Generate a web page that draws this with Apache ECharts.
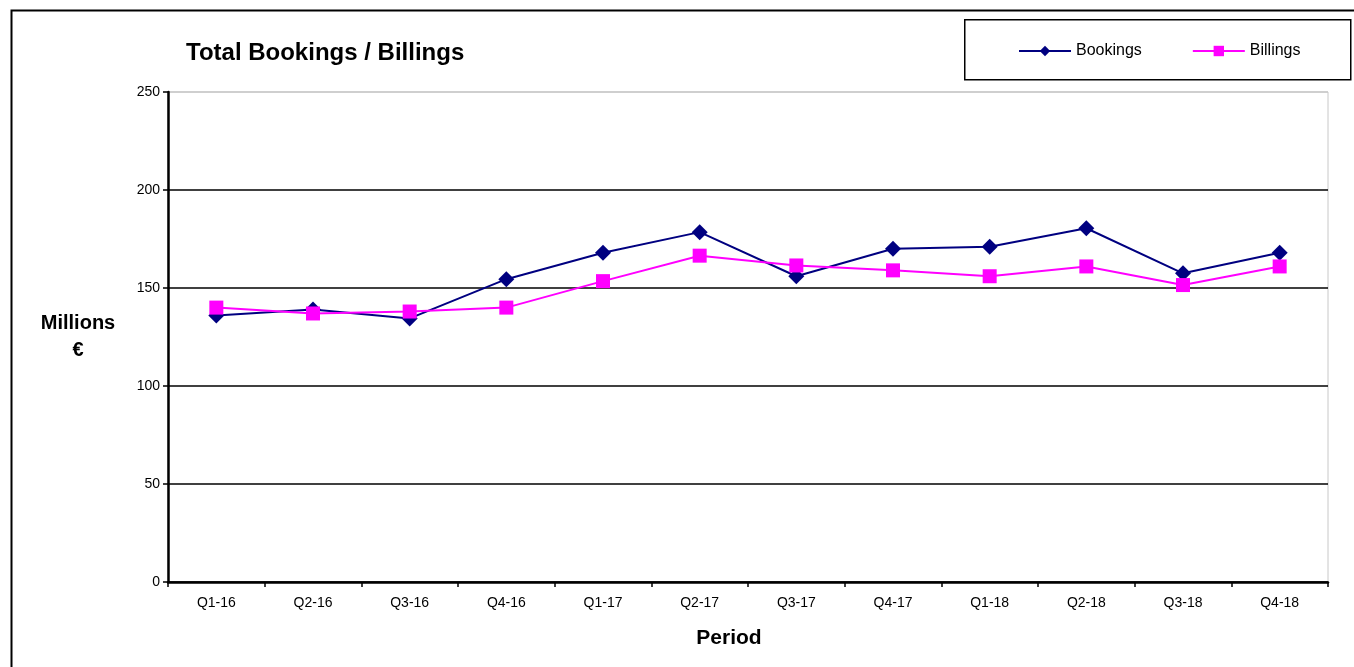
<!DOCTYPE html>
<html>
<head>
<meta charset="utf-8">
<script src="https://cdn.jsdelivr.net/npm/echarts@6/dist/echarts.min.js"></script>
<style>
html,body{margin:0;padding:0;background:#fff;}
#chart{width:1354px;height:667px;}
</style>
</head>
<body>
<div id="chart"></div>
<script>
const categories = ['Q1-16','Q2-16','Q3-16','Q4-16','Q1-17','Q2-17','Q3-17','Q4-17','Q1-18','Q2-18','Q3-18','Q4-18'];
const bookings = [136, 139, 134.5, 154.5, 168, 178.5, 156, 170, 171, 180.5, 157.5, 168];
const billings = [140, 137, 138, 140, 153.5, 166.5, 161.5, 159, 156, 161, 151.5, 161];
const yTicks = { min: 0, max: 250, interval: 50 };

const chart = echarts.init(document.getElementById('chart'), null, {renderer: 'canvas'});
const font = '"Liberation Sans", Arial, sans-serif';
chart.setOption({
  backgroundColor: '#fff',
  animation: false,
  textStyle: { fontFamily: font, color: '#000' },
  title: {
    text: 'Total Bookings / Billings',
    left: 181, top: 36,
    textStyle: { fontFamily: font, fontSize: 24, fontWeight: 'bold', color: '#000' }
  },
  legend: {
    left: 1018, top: 43,
    padding: 0,
    orient: 'horizontal',
    itemGap: 50,
    itemWidth: 52, itemHeight: 13,
    textStyle: { fontFamily: font, fontSize: 16, color: '#000' },
    data: ['Bookings', 'Billings']
  },
  graphic: [
    { type: 'rect', left: 9, top: 8, shape: { width: 1400, height: 700 }, style: { fill: 'none', stroke: '#000', lineWidth: 2 }, z: -1, silent: true },
    { type: 'rect', left: 964, top: 19, shape: { width: 386, height: 60 }, style: { fill: '#fff', stroke: '#000', lineWidth: 1.5 }, z: 0, silent: true }
  ],
  grid: {
    left: 168, top: 92, right: 26, bottom: 85,
    show: true, borderColor: '#c8c8c8', borderWidth: 1, backgroundColor: 'transparent'
  },
  xAxis: {
    type: 'category',
    data: categories,
    boundaryGap: true,
    name: 'Period',
    nameLocation: 'middle',
    nameGap: 46,
    nameTextStyle: { fontFamily: font, fontSize: 21, fontWeight: 'bold', color: '#000', padding: [0, 38, 0, 0] },
    axisLine: { lineStyle: { color: '#000', width: 2.5 } },
    axisTick: { show: true, length: 5, lineStyle: { color: '#000', width: 1.5 } },
    axisLabel: { fontFamily: font, fontSize: 14, color: '#000', margin: 14 },
    splitLine: { show: false }
  },
  yAxis: {
    type: 'value',
    min: yTicks.min, max: yTicks.max, interval: yTicks.interval,
    name: 'Millions\n€',
    nameLocation: 'middle',
    nameRotate: 0,
    nameGap: 90,
    nameTextStyle: { fontFamily: font, fontSize: 20, fontWeight: 'bold', color: '#000', align: 'center', lineHeight: 27, padding: [0, 0, 24, 0] },
    axisLine: { show: true, lineStyle: { color: '#000', width: 2.5 } },
    axisTick: { show: true, length: 5, lineStyle: { color: '#000', width: 1.5 } },
    axisLabel: { fontFamily: font, fontSize: 14, color: '#000', margin: 8 },
    splitLine: { show: true, lineStyle: { color: ['#000','#000','#000','#000','#000','#c8c8c8'], width: 1.5 } }
  },
  series: [
    {
      name: 'Bookings', type: 'line', data: bookings,
      symbol: 'diamond', symbolSize: 16,
      lineStyle: { color: '#000080', width: 2 },
      itemStyle: { color: '#000080' }
    },
    {
      name: 'Billings', type: 'line', data: billings,
      symbol: 'rect', symbolSize: 14,
      lineStyle: { color: '#ff00ff', width: 2 },
      itemStyle: { color: '#ff00ff' }
    }
  ]
});
</script>
</body>
</html>
